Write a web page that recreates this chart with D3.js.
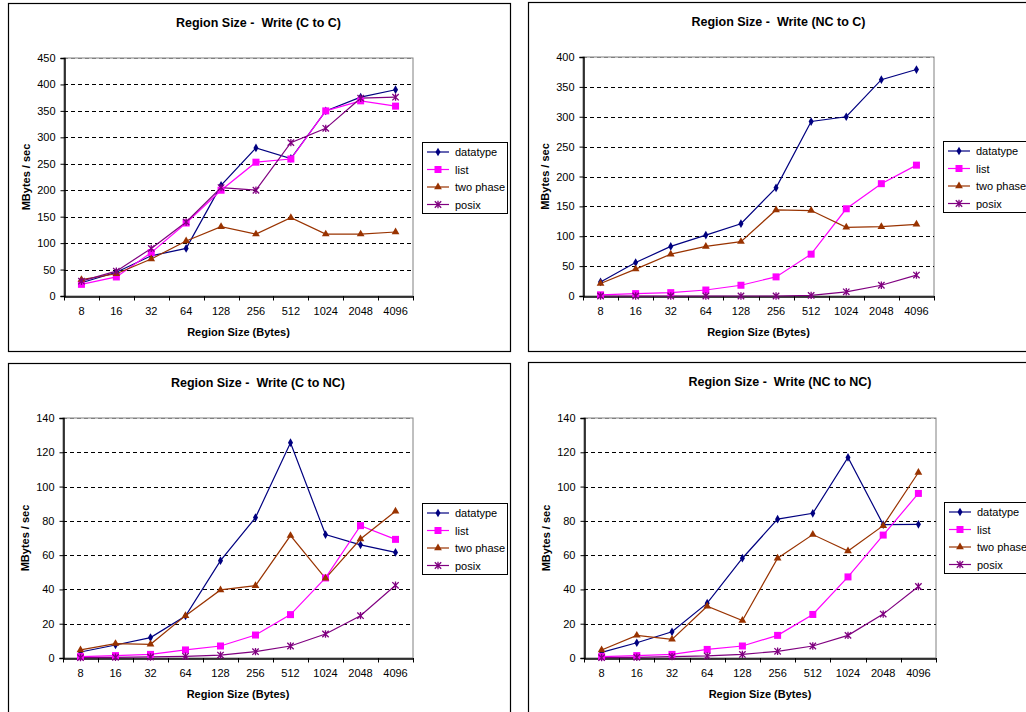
<!DOCTYPE html>
<html><head><meta charset="utf-8">
<script src="https://cdn.jsdelivr.net/npm/d3@7"></script>
<style>
html,body{margin:0;padding:0;background:#fff;}
svg{display:block;font-family:"Liberation Sans",Arial,sans-serif;}
</style></head>
<body>
<svg id="chart" width="1026" height="712"></svg>
<script>
// ---- data ----
const categories = ["8","16","32","64","128","256","512","1024","2048","4096"];
const seriesNames = ["datatype","list","two phase","posix"];
const titles = ["Region Size -  Write (C to C)","Region Size -  Write (NC to C)","Region Size -  Write (C to NC)","Region Size -  Write (NC to NC)"];
const yTicksCC = [0,50,100,150,200,250,300,350,400,450];
const yTicksNCC = [0,50,100,150,200,250,300,350,400];
const yTicksNC = [0,20,40,60,80,100,120,140];

// C to C
const ccDatatype = [25,45,76,90,209,280,260,350,376,390];
const ccList     = [22,36,82,138,200,253,259,350,369,359];
const ccTwoPhase = [31,42,70,104,131,117,148,117,117,121];
const ccPosix    = [28,47,90,140,205,200,290,317,374,376];
// NC to C
const nccDatatype = [23.5,56,83,102,121,181,292,300,362,379];
const nccList     = [2,4,5.6,10,18,32,70,146,188,219];
const nccTwoPhase = [21,45,70,83,91,144,143,115,116,120];
const nccPosix    = [0,0,0,0,0,0,1,7,18,35];
// C to NC
const cncDatatype = [3.5,7.6,11.9,24.5,56.8,81.9,125.6,72,66,61.6];
const cncList     = [0.8,1.4,2.1,4.7,7,13.4,25.3,46.7,77.2,69.2];
const cncTwoPhase = [4.7,8.4,8,24.7,39.7,42.2,71.4,46.5,69.4,85.6];
const cncPosix    = [0.2,0.4,0.6,1,1.7,3.7,7,14,24.7,42.4];
// NC to NC
const ncncDatatype = [3.3,8.9,15.3,32,58.2,81,84.4,117,77.8,78];
const ncncList     = [0.8,1.4,2.1,5,7,13.2,25.4,47.3,71.7,96];
const ncncTwoPhase = [4.7,13.2,10.9,30.2,21.9,58.2,72,62.4,77.2,108.2];
const ncncPosix    = [0.2,0.4,0.8,1.2,2.1,3.9,7,13.2,25.6,41.7];

const colors = ["#000080","#ff00ff","#993300","#800080"];

const panels = [
  {box:[8,3,502,348], plot:[64,58,413,296], legend:[422,142,85,71], ticks:yTicksCC, title:titles[0],
   series:[ccDatatype,ccList,ccTwoPhase,ccPosix]},
  {box:[528,2,520,349], plot:[583,57,934,296], legend:[943,141,100,71], ticks:yTicksNCC, title:titles[1],
   series:[nccDatatype,nccList,nccTwoPhase,nccPosix]},
  {box:[8,363,502,360], plot:[63,418,413,658], legend:[422,503,85,71], ticks:yTicksNC, title:titles[2],
   series:[cncDatatype,cncList,cncTwoPhase,cncPosix]},
  {box:[528,362,520,360], plot:[584,418,936,658], legend:[944,502,100,71], ticks:yTicksNC, title:titles[3],
   series:[ncncDatatype,ncncList,ncncTwoPhase,ncncPosix]}
];

const svg = d3.select("#chart");

function marker(g, type, x, y, color){
  if(type===0){
    g.append("path").attr("d", d3.symbol(d3.symbolDiamond, 22)()).attr("transform",`translate(${x},${y})`).attr("fill",color);
  } else if(type===1){
    g.append("rect").attr("x",x-3.5).attr("y",y-3.5).attr("width",7).attr("height",7).attr("fill",color);
  } else if(type===2){
    g.append("path").attr("d", d3.symbol(d3.symbolTriangle, 26)()).attr("transform",`translate(${x},${y})`).attr("fill",color);
  } else {
    const s=3.2;
    g.append("path").attr("d",`M${x-s},${y-s}L${x+s},${y+s}M${x-s},${y+s}L${x+s},${y-s}M${x},${y-s-0.5}L${x},${y+s+0.5}`)
      .attr("stroke",color).attr("stroke-width",1.3).attr("fill","none");
  }
}

panels.forEach(p=>{
  const g = svg.append("g");
  const [bx,by,bw,bh] = p.box;
  g.append("rect").attr("x",bx+0.5).attr("y",by+0.5).attr("width",bw).attr("height",bh)
    .attr("fill","#fff").attr("stroke","#000").attr("stroke-width",1.2);
  const [x0,y0,x1,y1] = p.plot;
  const yMax = p.ticks[p.ticks.length-1];
  const x = d3.scaleBand().domain(categories).range([x0,x1]);
  const y = d3.scaleLinear().domain([0,yMax]).range([y1,y0]);

  // plot area border (gray)
  g.append("rect").attr("x",x0).attr("y",y0).attr("width",x1-x0).attr("height",y1-y0)
    .attr("fill","#fff").attr("stroke","#808080").attr("stroke-width",1);
  // gridlines
  g.selectAll(null).data(p.ticks.slice(1)).enter().append("line")
    .attr("x1",x0).attr("x2",x1).attr("y1",d=>Math.round(y(d))+0.5).attr("y2",d=>Math.round(y(d))+0.5)
    .attr("stroke",(d,i)=> d===yMax ? "#808080":"#000").attr("stroke-width",1).attr("stroke-dasharray","4,3");

  // y axis
  const ya = g.append("g").attr("transform",`translate(${x0+0.5},0)`)
    .call(d3.axisLeft(y).tickValues(p.ticks).tickSize(4).tickPadding(5).tickFormat(d3.format("d")));
  ya.select(".domain").attr("stroke","#000").attr("stroke-width",1.5);
  ya.selectAll(".tick line").attr("stroke","#000");
  ya.selectAll("text").attr("font-size",11).attr("fill","#000").attr("font-family","Liberation Sans, Arial, sans-serif");

  // x axis
  const xa = g.append("g").attr("transform",`translate(0,${y1+0.5})`)
    .call(d3.axisBottom(x).tickSize(0).tickPadding(11));
  xa.select(".domain").attr("stroke","#000").attr("stroke-width",1.5);
  xa.selectAll("text").attr("font-size",11).attr("fill","#000").attr("font-family","Liberation Sans, Arial, sans-serif");
  const bounds = d3.range(categories.length+1).map(i=> x0 + i*x.step());
  g.selectAll(null).data(bounds).enter().append("line")
    .attr("x1",d=>Math.round(d)+0.5).attr("x2",d=>Math.round(d)+0.5).attr("y1",y1).attr("y2",y1+4.5)
    .attr("stroke","#000").attr("stroke-width",1);

  // titles
  g.append("text").attr("x",(x0+x1)/2+20).attr("y",by+24).attr("text-anchor","middle")
    .attr("font-weight","bold").attr("font-size",12.5).style("white-space","pre").text(p.title);
  g.append("text").attr("x",(x0+x1)/2).attr("y",y1+40).attr("text-anchor","middle")
    .attr("font-weight","bold").attr("font-size",11).text("Region Size (Bytes)");
  g.append("text").attr("transform",`translate(${x0-34},${(y0+y1)/2}) rotate(-90)`).attr("text-anchor","middle")
    .attr("font-weight","bold").attr("font-size",11).text("MBytes / sec");

  // series
  p.series.forEach((vals,si)=>{
    const line = d3.line().x((d,i)=>x(categories[i])+x.bandwidth()/2).y(d=>y(d));
    g.append("path").datum(vals).attr("d",line).attr("fill","none")
      .attr("stroke",colors[si]).attr("stroke-width",1.2);
  });
  p.series.forEach((vals,si)=>{
    vals.forEach((v,i)=>marker(g,si,x(categories[i])+x.bandwidth()/2,y(v),colors[si]));
  });

  // legend
  const [lx,ly,lw,lh] = p.legend;
  g.append("rect").attr("x",lx+0.5).attr("y",ly+0.5).attr("width",lw).attr("height",lh)
    .attr("fill","#fff").attr("stroke","#000").attr("stroke-width",1);
  seriesNames.forEach((n,i)=>{
    const yy = ly+10+i*17.5;
    g.append("line").attr("x1",lx+5).attr("x2",lx+27).attr("y1",yy).attr("y2",yy).attr("stroke",colors[i]).attr("stroke-width",1.2);
    marker(g,i,lx+16,yy,colors[i]);
    g.append("text").attr("x",lx+33).attr("y",yy+4).attr("font-size",11).text(n);
  });
});
</script>
</body></html>
